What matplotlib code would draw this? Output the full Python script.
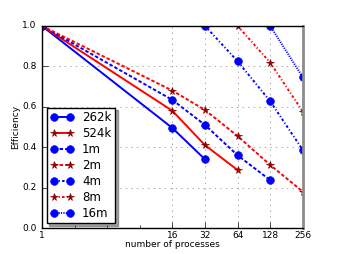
import matplotlib
matplotlib.use("Agg")
import matplotlib.pyplot as plt
from matplotlib.ticker import FixedLocator, FixedFormatter, NullFormatter

plt.style.use("classic")

# data
procs_262k = [1, 16, 32]
eff_262k = [1.0, 0.495, 0.34]
procs_524k = [1, 16, 32, 64]
eff_524k = [1.0, 0.58, 0.41, 0.287]
procs_1m = [1, 16, 32, 64, 128]
eff_1m = [1.0, 0.634, 0.51, 0.36, 0.237]
procs_2m = [1, 16, 32, 64, 128, 256]
eff_2m = [1.0, 0.68, 0.584, 0.455, 0.312, 0.18]
procs_4m = [32, 64, 128, 256]
eff_4m = [1.0, 0.825, 0.627, 0.386]
procs_8m = [64, 128, 256]
eff_8m = [1.0, 0.818, 0.576]
procs_16m = [128, 256]
eff_16m = [1.0, 0.746]

xticks = [1, 16, 32, 64, 128, 256]
yticks = [0.0, 0.2, 0.4, 0.6, 0.8, 1.0]

fig = plt.figure(figsize=(3.38, 2.54), dpi=100)
ax = fig.add_axes([0.124, 0.102, 0.772, 0.796])

blue = dict(color="blue", marker="o", markersize=5.5, markeredgecolor="blue", linewidth=1.4)
red = dict(color="red", marker="*", markersize=5.5, markerfacecolor="darkred",
           markeredgecolor="darkred", linewidth=1.4)

solid = "-"
dashed = (0, (2.5, 1.5))
dashdot = (0, (1.8, 1.6, 0.8, 1.6))
dotted = (0, (0.8, 0.9))

ax.plot(procs_262k, eff_262k, linestyle=solid, label="262k", **blue)
ax.plot(procs_524k, eff_524k, linestyle=solid, label="524k", **red)
ax.plot(procs_1m, eff_1m, linestyle=dashed, label="1m", **blue)
ax.plot(procs_2m, eff_2m, linestyle=dashed, label="2m", **red)
ax.plot(procs_4m, eff_4m, linestyle=dashdot, label="4m", **blue)
ax.plot(procs_8m, eff_8m, linestyle=dashdot, label="8m", **red)
ax.plot(procs_16m, eff_16m, linestyle=dotted, label="16m", **blue)

ax.set_xscale("log", base=2)
ax.set_xlim(1, 256)
ax.set_ylim(0, 1.0)
ax.xaxis.set_major_locator(FixedLocator(xticks))
ax.xaxis.set_major_formatter(FixedFormatter([str(t) for t in xticks]))
ax.xaxis.set_minor_locator(FixedLocator([2, 4, 8]))
ax.xaxis.set_minor_formatter(NullFormatter())
ax.set_yticks(yticks)
ax.set_yticklabels(["%.1f" % t for t in yticks])
ax.tick_params(labelsize=6.5, top=False, right=False, which="both")
ax.tick_params(axis="x", pad=2)
ax.set_axisbelow(True)
ax.grid(True, color="0.6", linestyle=":", linewidth=0.6)
for side in ["top", "left", "bottom"]:
    ax.spines[side].set_zorder(3)
ax.spines["right"].set_color("0.55")
ax.spines["right"].set_linewidth(2)

ax.set_xlabel("number of processes", fontsize=6.5, labelpad=0)
ax.set_ylabel("Efficiency", fontsize=6.5, labelpad=1)

ax.legend(loc="lower left", fontsize=8.5, numpoints=2, shadow=True,
          handlelength=2.0, labelspacing=0.25, borderpad=0.3, handletextpad=0.7,
          borderaxespad=0.4)

fig.savefig("out.png", dpi=100)
